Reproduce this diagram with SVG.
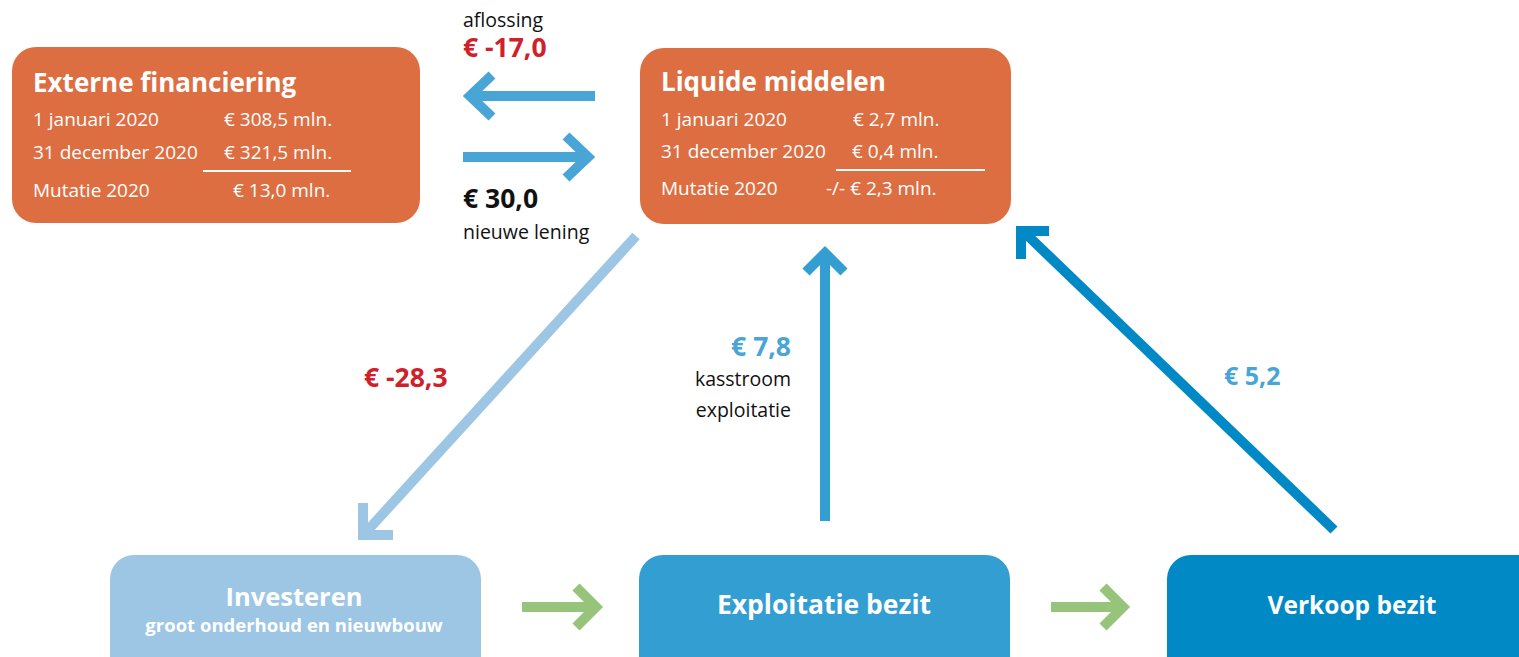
<svg xmlns="http://www.w3.org/2000/svg" width="1519" height="657" viewBox="0 0 1519 657">
<defs>
<style>
text{font-family:"Open Sans","Noto Sans","Liberation Sans",sans-serif}
.box{fill:#DD6E42}
.t{fill:#fff;font-weight:bold;font-size:26px}
.r{fill:#fff;font-size:19px}
.lbl{fill:#111;font-size:19.5px}
.red{fill:#D0202A;font-weight:bold;font-size:26.5px}
.blk{fill:#111;font-weight:bold;font-size:26.5px}
.blu{fill:#49A5D6;font-weight:bold;font-size:26.5px}
.nt{fill:#fff;font-weight:bold;font-size:26.5px;text-anchor:middle}
.arr{fill:none;stroke-width:10;stroke-linecap:butt;stroke-linejoin:miter}
</style>
</defs>
<g id="externe-financiering">
<rect class="box" x="12" y="47" width="408" height="176" rx="24"/>
<text class="t" x="33" y="92">Externe financiering</text>
<text class="r" x="33" y="126">1 januari 2020</text>
<text class="r" x="224" y="126">€ 308,5 mln.</text>
<text class="r" x="33" y="159">31 december 2020</text>
<text class="r" x="224" y="159">€ 321,5 mln.</text>
<line x1="203" y1="171" x2="351" y2="171" stroke="#fff" stroke-width="2"/>
<text class="r" x="33" y="197">Mutatie 2020</text>
<text class="r" x="233" y="197">€  13,0 mln.</text>
</g>
<g id="liquide-middelen">
<rect class="box" x="640" y="48" width="371" height="176" rx="24"/>
<text class="t" x="661" y="91">Liquide middelen</text>
<text class="r" x="661" y="126">1 januari 2020</text>
<text class="r" x="853" y="126">€ 2,7 mln.</text>
<text class="r" x="661" y="158">31 december 2020</text>
<text class="r" x="852" y="158">€ 0,4 mln.</text>
<line x1="836" y1="170" x2="985" y2="170" stroke="#fff" stroke-width="2"/>
<text class="r" x="661" y="195">Mutatie 2020</text>
<text class="r" x="826" y="195">-/- € 2,3 mln.</text>
</g>
<g id="investeren">
<rect x="110" y="555" width="371" height="130" rx="24" fill="#9DC6E5"/>
<text class="nt" x="294" y="606" style="font-size:25.5px">Investeren</text>
<text class="nt" x="294" y="632" style="font-size:18.5px">groot onderhoud en nieuwbouw</text>
</g>
<g id="exploitatie-bezit">
<rect x="639" y="555" width="371" height="130" rx="24" fill="#339ED2"/>
<text class="nt" x="824" y="614">Exploitatie bezit</text>
</g>
<g id="verkoop-bezit">
<rect x="1167" y="555" width="400" height="130" rx="24" fill="#0089C4"/>
<text class="nt" x="1352" y="614" style="font-size:24.5px">Verkoop bezit</text>
</g>
<g id="connectors">
<g stroke="#49A5D6" class="arr">
<path d="M595 96H468M492 75L470 96L492 117"/>
<path d="M463 157H590M566 136L588 157L566 178"/>
</g>
<g stroke="#9DC6E5" class="arr">
<path d="M636 236L368 530"/>
<path d="M363 503V535H393"/>
</g>
<g stroke="#339ED2" class="arr">
<path d="M825 521V254M806 272L825 253L844 272"/>
</g>
<g stroke="#0089C4" class="arr">
<path d="M1334 530L1025 233"/>
<path d="M1049 231H1021V259"/>
</g>
<g stroke="#95C47A" class="arr">
<path d="M522 607H592M576 587L596 607L576 627"/>
<path d="M1051 607H1119M1103 587L1123 607L1103 627"/>
</g>
<text class="lbl" x="463" y="27">aflossing</text>
<text class="red" x="463" y="57">€ -17,0</text>
<text class="blk" x="463" y="208">€ 30,0</text>
<text class="lbl" x="463" y="239">nieuwe lening</text>
<text class="red" x="364" y="387">€ -28,3</text>
<text class="blu" x="791" y="356" text-anchor="end">€ 7,8</text>
<text class="lbl" x="791" y="386" text-anchor="end">kasstroom</text>
<text class="lbl" x="791" y="417" text-anchor="end">exploitatie</text>
<text class="blu" x="1224" y="385" style="font-size:25px">€ 5,2</text>
</g>
</svg>
